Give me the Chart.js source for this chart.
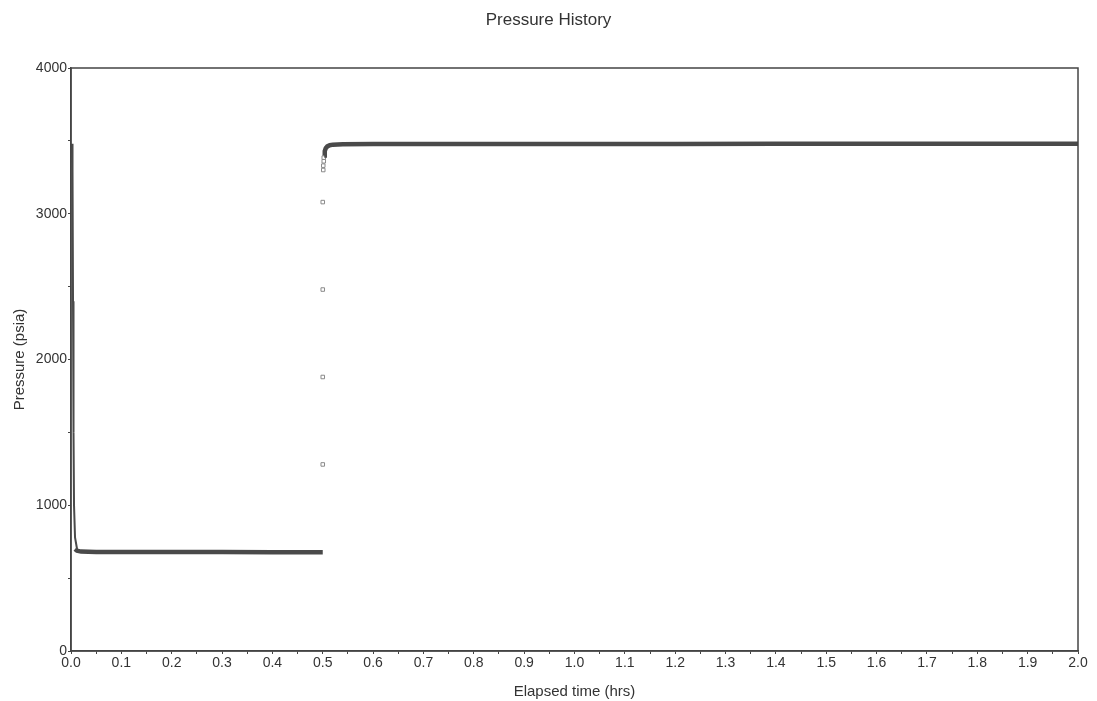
<!DOCTYPE html>
<html>
<head>
<meta charset="utf-8">
<title>Pressure History</title>
<script src="https://cdn.jsdelivr.net/npm/chart.js@4.4.1/dist/chart.umd.min.js"></script>
<style>
  html, body { margin: 0; padding: 0; background: #fff; }
  #wrap { width: 1097px; height: 701px; }
</style>
</head>
<body>
<div id="wrap"><canvas id="chart"></canvas></div>
<script>
// drawdown at start of test
const dropTime = [0.002, 0.003, 0.004, 0.005, 0.006, 0.008, 0.012];
const dropPsia = [3480, 3300, 2400, 1500, 1000, 780, 700];

// flow period
const flowTime = [0.008, 0.012, 0.02, 0.05, 0.1, 0.2, 0.3, 0.4, 0.5];
const flowPsia = [700, 688, 682, 680, 680, 679, 679, 678, 678];

// buildup after shut-in at 0.5 hrs
const buildupTime = [0.503, 0.504, 0.506, 0.509, 0.514, 0.52, 0.54, 0.6, 0.8, 1.0, 1.2, 1.4, 1.6, 1.8, 2.0];
const buildupPsia = [3400, 3430, 3450, 3462, 3470, 3474, 3477, 3478, 3479, 3479, 3479, 3480, 3480, 3480, 3480];

// sparse points in the pressure jump
const jumpTime = [0.5, 0.5, 0.5, 0.5, 0.501, 0.501, 0.502, 0.502];
const jumpPsia = [1280, 1880, 2480, 3080, 3300, 3330, 3360, 3385];

const toXY = (t, p) => t.map((x, i) => ({ x: x, y: p[i] }));

const font = "'Liberation Sans', Arial, sans-serif";

// frame round the plot plus a title centred on the whole canvas
const frame = {
  id: "frame",
  afterDraw(chart) {
    const a = chart.chartArea;
    const ctx = chart.ctx;
    ctx.save();
    ctx.strokeStyle = "#444";
    ctx.lineWidth = 1.5;
    ctx.strokeRect(a.left, a.top, a.right - a.left, a.bottom - a.top);
    ctx.fillStyle = "#333";
    ctx.font = "17px " + font;
    ctx.textAlign = "center";
    ctx.textBaseline = "middle";
    ctx.fillText("Pressure History", chart.width / 2, 20);
    ctx.restore();
  },
};

const line = (data, width) => ({
  data: data,
  showLine: true,
  borderColor: "#4a4a4a",
  borderWidth: width,
  pointRadius: 0,
  tension: 0,
});

new Chart(document.getElementById("chart"), {
  type: "scatter",
  data: {
    datasets: [
      line(toXY(dropTime, dropPsia), 2),
      line(toXY(flowTime, flowPsia), 4.5),
      line(toXY(buildupTime, buildupPsia), 4.5),
      {
        data: toXY(jumpTime, jumpPsia),
        showLine: false,
        pointStyle: "rect",
        pointRadius: 2.5,
        pointBorderWidth: 1,
        pointBorderColor: "#8a8a8a",
        pointBackgroundColor: "rgba(255,255,255,0)",
      },
    ],
  },
  options: {
    responsive: true,
    maintainAspectRatio: false,
    animation: false,
    layout: { padding: { right: 19, left: 0, top: 68, bottom: 0 } },
    plugins: {
      legend: { display: false },
      tooltip: { enabled: false },
      title: { display: false },
    },
    scales: {
      x: {
        type: "linear",
        min: 0,
        max: 2,
        border: { color: "#444", width: 1.5 },
        grid: { drawOnChartArea: false, tickLength: 3, color: "#444" },
        ticks: {
          stepSize: 0.05,
          autoSkip: false,
          maxRotation: 0,
          padding: 1,
          color: "#333",
          font: { family: font, size: 14 },
          callback: (v) => (Math.abs(v * 10 - Math.round(v * 10)) < 1e-6 ? v.toFixed(1) : ""),
        },
        title: {
          display: true,
          text: "Elapsed time (hrs)",
          color: "#333",
          font: { family: font, size: 15 },
          padding: { top: 2, bottom: 0 },
        },
        afterFit: (scale) => { scale.height = 50; },
      },
      y: {
        min: 0,
        max: 4000,
        border: { color: "#444", width: 1.5 },
        grid: { drawOnChartArea: false, tickLength: 3, color: "#444" },
        ticks: {
          stepSize: 500,
          autoSkip: false,
          padding: 1,
          color: "#333",
          font: { family: font, size: 14 },
          callback: (v) => (v % 1000 === 0 ? String(v) : ""),
        },
        title: {
          display: true,
          text: "Pressure (psia)",
          color: "#333",
          font: { family: font, size: 15 },
          padding: { top: 11, bottom: 0 },
        },
        afterFit: (scale) => { scale.width = 71; },
      },
    },
  },
  plugins: [frame],
});
</script>
</body>
</html>
